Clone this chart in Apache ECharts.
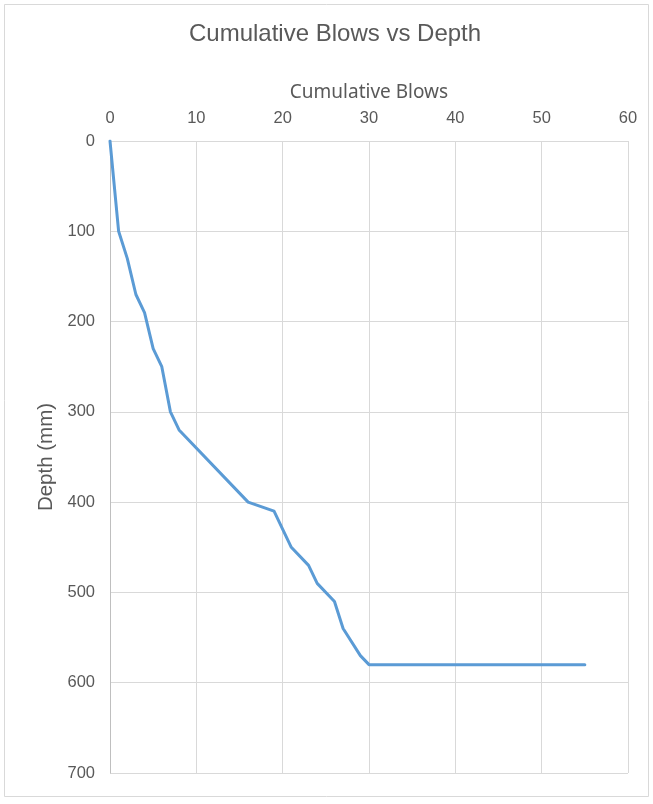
<!DOCTYPE html>
<html>
<head>
<meta charset="utf-8">
<script src="https://cdn.jsdelivr.net/npm/echarts@6/dist/echarts.min.js"></script>
<style>
  html, body { margin: 0; padding: 0; background: #fff; }
  #chart { width: 653px; height: 804px; }
</style>
</head>
<body>
<div id="chart"></div>
<script>
// Penetration test record: cumulative blow count against depth
const cumulativeBlows = [0, 1, 2, 3, 4, 5, 6, 7, 8, 16, 19, 21, 23, 24, 26, 27, 29, 30, 55];
const depthMm = [0, 100, 130, 170, 190, 230, 250, 300, 320, 400, 410, 450, 470, 490, 510, 540, 570, 580, 580];
const blowTicks = [0, 10, 20, 30, 40, 50, 60];
const depthTicks = [0, 100, 200, 300, 400, 500, 600, 700];

const textGrey = '#595959';
const gridGrey = '#d9d9d9';

const chart = echarts.init(document.getElementById('chart'), null, { renderer: 'canvas' });

chart.setOption({
  backgroundColor: '#ffffff',
  animation: false,
  title: {
    text: 'Cumulative Blows vs Depth',
    left: 184,
    top: 17,
    textStyle: { fontFamily: 'Liberation Sans', fontSize: 24, fontWeight: 'normal', color: textGrey }
  },
  graphic: [{
    type: 'rect',
    shape: { x: 4.5, y: 4.5, width: 644, height: 792 },
    style: { fill: 'none', stroke: gridGrey, lineWidth: 1 },
    silent: true
  }],
  grid: { left: 110, right: 25, top: 141, bottom: 31, containLabel: false },
  xAxis: {
    type: 'value',
    position: 'top',
    min: blowTicks[0],
    max: blowTicks[blowTicks.length - 1],
    interval: blowTicks[1] - blowTicks[0],
    name: 'Cumulative Blows',
    nameLocation: 'middle',
    nameGap: 39,
    nameTextStyle: { fontFamily: 'Noto Sans', fontSize: 19, color: textGrey },
    axisLine: { show: true, lineStyle: { color: gridGrey, width: 1 } },
    axisTick: { show: false },
    axisLabel: { margin: 14, fontFamily: 'Liberation Sans', fontSize: 16.5, color: textGrey },
    splitLine: { show: true, lineStyle: { color: gridGrey, width: 1 } }
  },
  yAxis: {
    type: 'value',
    inverse: true,
    min: depthTicks[0],
    max: depthTicks[depthTicks.length - 1],
    interval: depthTicks[1] - depthTicks[0],
    name: 'Depth (mm)',
    nameLocation: 'middle',
    nameGap: 52,
    nameRotate: 90,
    nameTextStyle: { fontFamily: 'Liberation Sans', fontSize: 20.5, color: textGrey },
    axisLine: { show: true, lineStyle: { color: '#bfbfbf', width: 1 } },
    axisTick: { show: false },
    axisLabel: { margin: 15, fontFamily: 'Liberation Sans', fontSize: 16.5, color: textGrey },
    splitLine: { show: true, lineStyle: { color: gridGrey, width: 1 } }
  },
  series: [{
    type: 'line',
    data: cumulativeBlows.map((b, i) => [b, depthMm[i]]),
    showSymbol: false,
    lineStyle: { color: '#5b9bd5', width: 3, cap: 'round', join: 'round' },
    itemStyle: { color: '#5b9bd5' }
  }]
});
</script>
</body>
</html>
